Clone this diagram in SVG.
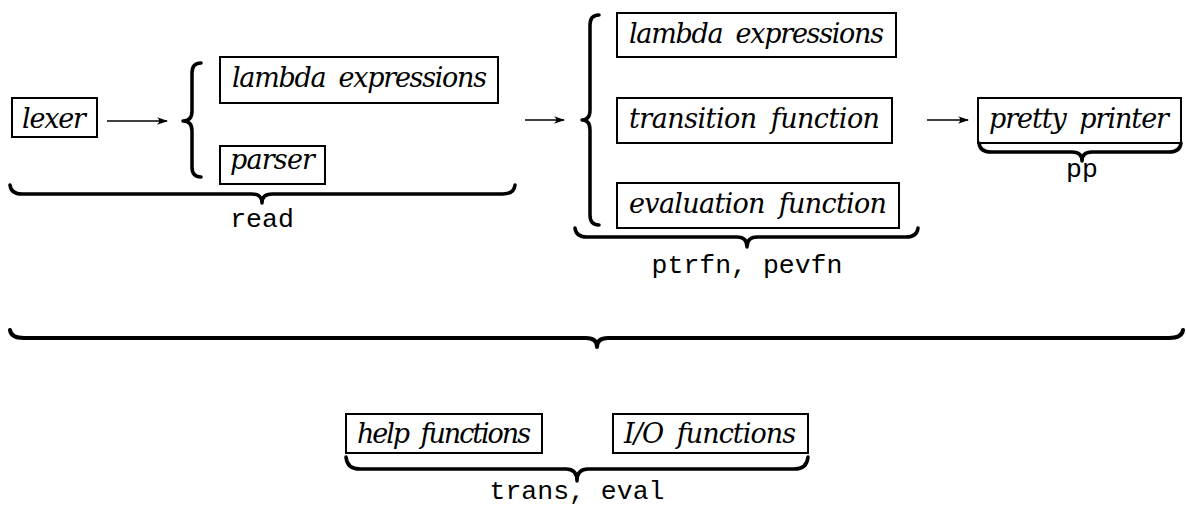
<svg xmlns="http://www.w3.org/2000/svg" width="1186" height="511" viewBox="0 0 1186 511">
<style>
.box{fill:none;stroke:#000;stroke-width:2}
.brace{fill:none;stroke:#000;stroke-width:3.5;stroke-linecap:round;stroke-linejoin:round}
.arrow{fill:none;stroke:#000;stroke-width:1.5;marker-end:url(#ah)}
</style>
<defs>
<marker id="ah" viewBox="0 0 11 8" refX="10" refY="4" markerWidth="11" markerHeight="8" markerUnits="userSpaceOnUse" orient="auto">
<path d="M0,0.3 Q4.5,4 0,7.7 L11,4 Z" fill="#000"/>
</marker>
</defs>
<rect width="1186" height="511" fill="#fff"/>

<g font-family="'DejaVu Serif', serif" font-style="italic" font-size="27" fill="#000" word-spacing="6">
<g id="lexer"><rect class="box" x="12" y="98" width="85" height="39"/><text x="22" y="128" textLength="64">lexer</text></g>
<g id="lambda1"><rect class="box" x="220" y="57" width="278" height="46"/><text x="232" y="87" textLength="255">lambda expressions</text></g>
<g id="parser"><rect class="box" x="220" y="146" width="105" height="38"/><text x="230" y="169" textLength="85">parser</text></g>
<g id="lambda2"><rect class="box" x="617" y="13" width="279" height="44"/><text x="629" y="43" textLength="255">lambda expressions</text></g>
<g id="transition"><rect class="box" x="617" y="98" width="275" height="45"/><text x="629" y="128" textLength="251">transition function</text></g>
<g id="evaluation"><rect class="box" x="617" y="183" width="282" height="45"/><text x="629" y="213" textLength="258">evaluation function</text></g>
<g id="pretty"><rect class="box" x="978" y="98" width="203" height="45"/><text x="989" y="128" textLength="180">pretty printer</text></g>
<g id="help"><rect class="box" x="346" y="414" width="196" height="39"/><text x="357" y="443" textLength="174">help functions</text></g>
<g id="io"><rect class="box" x="613" y="414" width="195" height="39"/><text x="624" y="443" textLength="172">I/O functions</text></g>
</g>

<g id="connectors">
<line class="arrow" x1="107" y1="121" x2="167" y2="121"/>
<line class="arrow" x1="525" y1="120" x2="564" y2="120"/>
<line class="arrow" x1="927" y1="120" x2="968" y2="120"/>
</g>

<g id="braces">
<path class="brace" d="M201,63 Q192,63 192,73 L192,111 Q192,121 183,121 Q192,121 192,131 L192,167 Q192,177 201,177"/>
<path class="brace" d="M599,15 Q590,15 590,25 L590,110 Q590,120 582,120 Q590,120 590,130 L590,215 Q590,225 599,225"/>
<path class="brace" d="M10,185 Q11,194 22,194 L252,194 Q262,194 262,203 Q262,194 272,194 L503,194 Q514,194 515,185"/>
<path class="brace" d="M575,228 Q576,237 587,237 L737,237 Q747,237 747,247 Q747,237 757,237 L906,237 Q917,237 918,228"/>
<path class="brace" d="M979,143 Q980,152 991,152 L1072,152 Q1082,152 1082,161 Q1082,152 1092,152 L1169,152 Q1180,152 1181,143"/>
<path class="brace" style="stroke-width:4" d="M10,330 Q11,338 24,338 L586,338 Q597,338 597,347 Q597,338 608,338 L1169,338 Q1182,338 1183,330"/>
<path class="brace" d="M346,457 Q347,469 360,469 L566,469 Q577,469 577,481 Q577,469 588,469 L794,469 Q807,469 808,457"/>
</g>

<g id="labels" font-family="'Liberation Mono', 'Courier New', monospace" font-size="26.5" fill="#000" text-anchor="middle">
<text x="262" y="227">read</text>
<text x="747" y="273">ptrfn, pevfn</text>
<text x="1082" y="177">pp</text>
<text x="577" y="499">trans, eval</text>
</g>
</svg>
